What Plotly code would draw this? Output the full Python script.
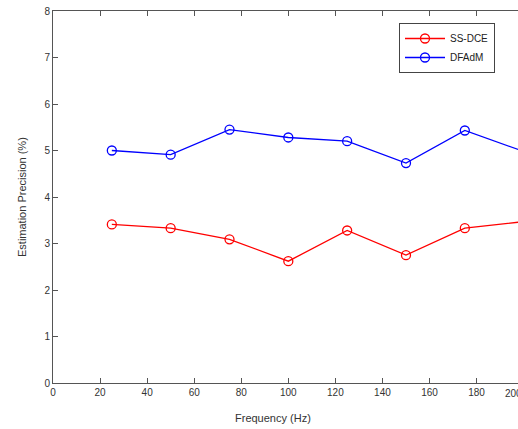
import plotly.graph_objects as go

freq = [25, 50, 75, 100, 125, 150, 175, 200]
ss_dce = [3.41, 3.33, 3.09, 2.62, 3.28, 2.75, 3.33, 3.47]
dfadm = [5.00, 4.91, 5.45, 5.28, 5.20, 4.73, 5.43, 4.98]
x_ticks = [0, 20, 40, 60, 80, 100, 120, 140, 160, 180]
y_ticks = [0, 1, 2, 3, 4, 5, 6, 7, 8]

W, H = 518, 429
L, T, B, R = 53, 11, 46, 0
xmax = 197.6
plot_w = W - L - R
plot_h = H - T - B

fig = go.Figure()
fig.add_trace(go.Scatter(x=freq, y=ss_dce, name="SS-DCE", mode="lines+markers",
                         line=dict(color="#ff0000", width=1.3),
                         marker=dict(symbol="circle-open", size=9, color="#ff0000", line=dict(width=1.3)),
                         cliponaxis=True))
fig.add_trace(go.Scatter(x=freq, y=dfadm, name="DFAdM", mode="lines+markers",
                         line=dict(color="#0000ff", width=1.3),
                         marker=dict(symbol="circle-open", size=9, color="#0000ff", line=dict(width=1.3)),
                         cliponaxis=True))

axis_font = dict(family="Liberation Sans, Arial, sans-serif", size=10, color="#333333")
fig.update_layout(
    width=W, height=H,
    margin=dict(l=L, r=R, t=T, b=B),
    paper_bgcolor="white", plot_bgcolor="white",
    showlegend=True,
    legend=dict(x=(399 - L) / plot_w, y=1 - (23 - T) / plot_h, xref="paper", yref="paper",
                xanchor="left", yanchor="top",
                bordercolor="#444444", borderwidth=1, bgcolor="white",
                font=dict(family="Liberation Sans, Arial, sans-serif", size=10, color="#222222"),
                itemwidth=40, tracegroupgap=0),
    xaxis=dict(range=[0, xmax], tickvals=x_ticks, ticks="inside", ticklen=5, tickcolor="#555555",
               showline=True, linecolor="#555555", linewidth=1, mirror="ticks", showgrid=False,
               zeroline=False, tickfont=axis_font),
    yaxis=dict(range=[0, 8], tickvals=y_ticks, ticks="inside", ticklen=5, tickcolor="#555555",
               showline=True, linecolor="#555555", linewidth=1, showgrid=False,
               zeroline=False, tickfont=axis_font),
)

fig.add_annotation(x=(200 / xmax), y=0, xref="paper", yref="paper", yshift=-3,
                   text="200", showarrow=False, yanchor="top", font=axis_font)
fig.add_annotation(x=(273 - L) / plot_w, y=-(418 - (H - B)) / plot_h, xref="paper", yref="paper",
                   text="Frequency (Hz)", showarrow=False, yanchor="middle",
                   font=dict(family="Liberation Sans, Arial, sans-serif", size=11, color="#333333"))
fig.add_annotation(x=-(L - 22) / plot_w, y=0.5, xref="paper", yref="paper", textangle=-90,
                   text="Estimation Precision (%)", showarrow=False, xanchor="center",
                   font=dict(family="Liberation Sans, Arial, sans-serif", size=11, color="#333333"))

fig.write_html("out.html")
